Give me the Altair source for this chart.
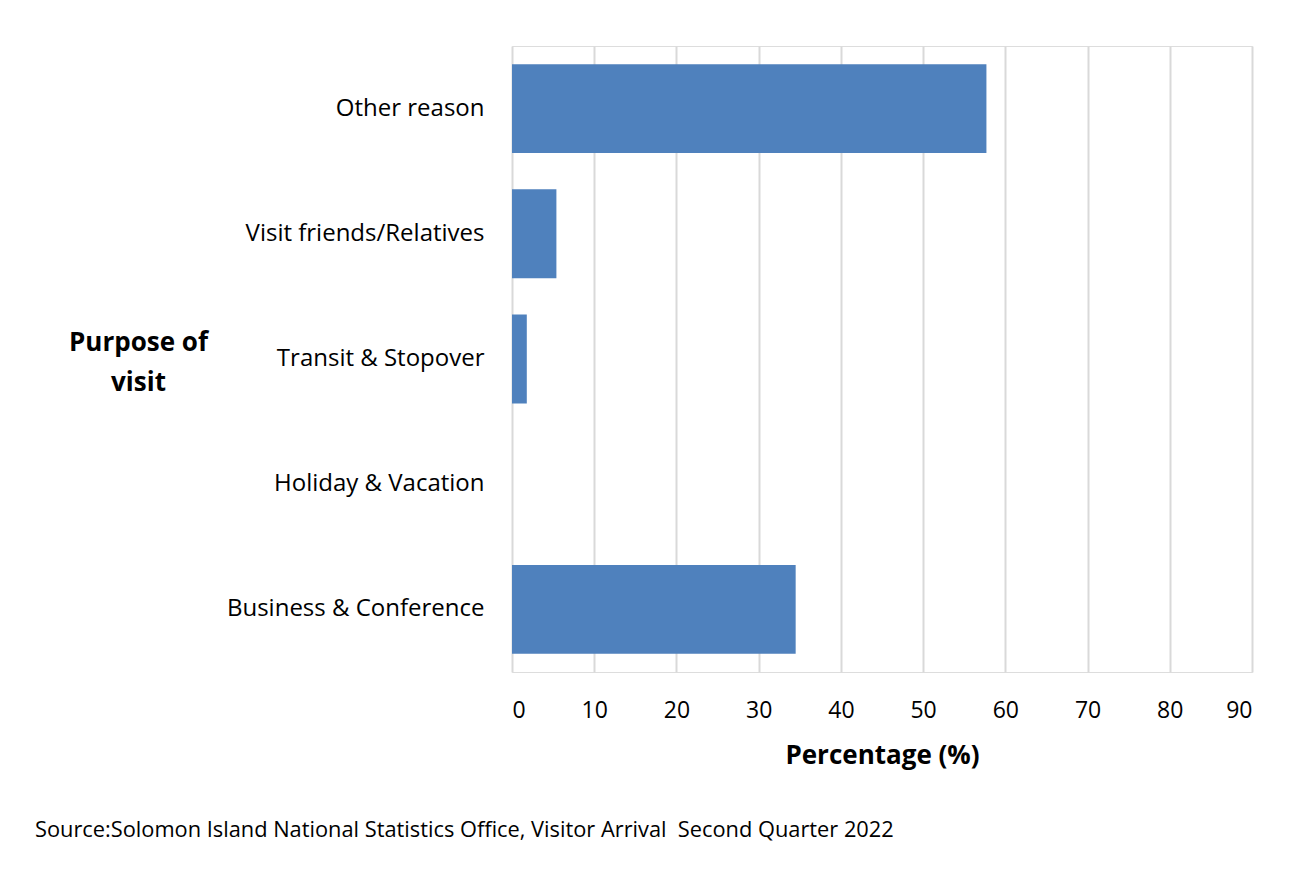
import altair as alt
import pandas as pd

categories = ["Other reason", "Visit friends/Relatives", "Transit & Stopover",
              "Holiday & Vacation", "Business & Conference"]
percentages = [57.7, 5.4, 1.8, 0.0, 34.5]
x_ticks = [0, 10, 20, 30, 40, 50, 60, 70, 80, 90]
source_text = ["Source:Solomon Island National Statistics Office, Visitor Arrival\u00a0 Second Quarter 2022"]

df = pd.DataFrame({"purpose": categories, "pct": percentages})

FONT = "Open Sans"

bars = alt.Chart(df).mark_bar(color="#4F81BD").encode(
    x=alt.X("pct:Q",
            scale=alt.Scale(domain=[0, 90], nice=False),
            axis=alt.Axis(values=x_ticks, title="Percentage (%)",
                          titleFontWeight="bold", titleFontSize=26, titleFont=FONT,
                          titleColor="#000000", titlePadding=20,
                          labelFontSize=23, labelFont=FONT, labelColor="#000000",
                          labelPadding=27, ticks=False, domain=False,
                          grid=True, gridColor="#D9D9D9", gridWidth=2)),
    y=alt.Y("purpose:N", sort=categories,
            scale=alt.Scale(paddingInner=0.29, paddingOuter=0.145),
            axis=alt.Axis(title=["Purpose of", "visit"], titleAngle=0,
                          titleFontWeight="bold", titleFontSize=26, titleFont=FONT,
                          titleColor="#000000", titleAlign="center",
                          titleBaseline="middle", titleLineHeight=40,
                          titleX=-374, titleY=296,
                          labelFontSize=24, labelFont=FONT, labelColor="#000000",
                          labelLimit=0,
                          labelPadding=28, ticks=False, domain=False, grid=False)),
)

src = alt.Chart(pd.DataFrame({"t": source_text})).mark_text(
    align="left", baseline="middle", fontSize=21.8, font=FONT, color="#000000"
).encode(text="t:N", x=alt.value(-477), y=alt.value(784))

chart = alt.layer(bars, src).properties(
    width=740, height=626,
    autosize=alt.AutoSizeParams(type="none"),
    padding={"left": 504, "top": 38, "right": 40, "bottom": 190},
).configure_view(stroke=None).configure(background="white")

chart.save("out.html", embed_options={"renderer": "svg", "actions": False})
